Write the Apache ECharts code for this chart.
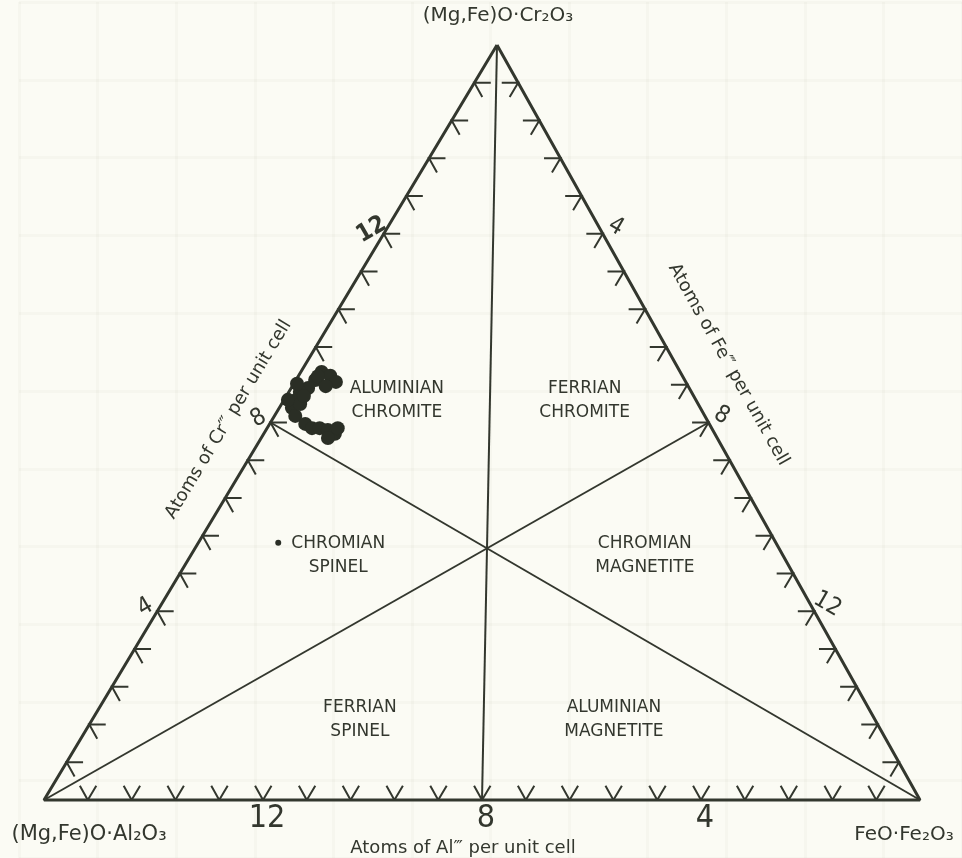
<!DOCTYPE html>
<html>
<head>
<meta charset="utf-8">
<script src="https://cdn.jsdelivr.net/npm/echarts@6/dist/echarts.min.js"></script>
<style>
  html, body { margin: 0; padding: 0; background: #fbfbf4; }
  #chart { width: 962px; height: 858px; }
</style>
</head>
<body>
<div id="chart"></div>
<script>
// ---------------- DATA (atoms per unit cell, each composition sums to 16) ----------------
const vertexNames = ['(Mg,Fe)O·Cr₂O₃', '(Mg,Fe)O·Al₂O₃', 'FeO·Fe₂O₃'];
const vertexCr = [16, 0, 0];
const vertexFe = [0, 0, 16];

// tick marks every 0.8 atoms along each edge
const atomTicks = [0.8, 1.6, 2.4, 3.2, 4.0, 4.8, 5.6, 6.4, 7.2, 8.0, 8.8, 9.6, 10.4, 11.2, 12.0, 12.8, 13.6, 14.4, 15.2];
const tickLabelAtoms = [4, 8, 12];
const tickLabels = ['4', '8', '12'];

const axisTitles = ['Atoms of Al‴ per unit cell', 'Atoms of Cr‴ per unit cell', 'Atoms of Fe‴ per unit cell'];

// field boundaries: each vertex joined to the midpoint of the opposite edge
const dividerFromCr = [16, 0, 0];
const dividerFromFe = [0, 0, 16];
const dividerToCr = [0, 8, 8];
const dividerToFe = [8, 8, 0];

const regionNames = ['ALUMINIAN\nCHROMITE', 'FERRIAN\nCHROMITE', 'CHROMIAN\nSPINEL', 'CHROMIAN\nMAGNETITE', 'FERRIAN\nSPINEL', 'ALUMINIAN\nMAGNETITE'];
const regionCr = [8.46, 8.46, 5.17, 5.17, 1.70, 1.70];
const regionFe = [2.07, 5.50, 2.70, 8.30, 4.89, 9.53];

// analysed chromites (cluster near the Cr–Al edge)
const clusterCr = [9.07, 8.99, 8.86, 8.90, 8.73, 8.65, 8.48, 8.31, 8.14, 8.39, 8.56, 7.97, 7.88, 7.88, 7.84, 7.76, 7.67, 7.88, 8.98, 8.77, 8.48, 8.82];
const clusterFe = [0.38, 0.58, 0.75, 0.35, 0.31, 0.20, 0.22, 0.23, 0.38, 0.34, 0.32, 0.65, 0.82, 0.96, 1.13, 1.30, 1.22, 1.29, 0.36, 0.61, 0.07, 0.06];
// single chromian spinel sample
const spinelCr = [5.45];
const spinelFe = [1.46];

// ---------------- LAYOUT / STYLE ----------------
const TOTAL = 16;
const TOP_X = 453 / 876;   // horizontal position of the Cr apex across the base
const TICK = 0.3;          // tick arm length, atoms
const INK = '#33372e';
const FONT = "'DejaVu Sans', sans-serif";
const NARROW = "'Liberation Sans Narrow', 'DejaVu Sans Condensed', sans-serif";

function proj(cr, fe) {
  return [fe / TOTAL + (cr / TOTAL) * TOP_X, cr / TOTAL];
}

// convert a wanted on-screen offset into the label's rotated local frame
function localOffset(dx, dy, deg) {
  const t = (deg || 0) * Math.PI / 180;
  const c = Math.cos(t), s = Math.sin(t);
  return [dx * c - dy * s, dx * s + dy * c];
}

// triangle outline
const outline = [0, 1, 2, 0].map(i => proj(vertexCr[i], vertexFe[i]));

// divider lines
const dividers = dividerFromCr.map((c, i) => ({
  coords: [proj(c, dividerFromFe[i]), proj(dividerToCr[i], dividerToFe[i])]
}));

// ticks: two arms parallel to the other two edges, pointing into the triangle
const ticks = [];
atomTicks.forEach(a => {
  const fb = TOTAL - a;
  ticks.push({ coords: [proj(TICK, fb - TICK), proj(0, fb), proj(TICK, fb)] });       // bottom
  ticks.push({ coords: [proj(a, TICK), proj(a, 0), proj(a - TICK, TICK)] });          // left
  const cr = TOTAL - a;
  ticks.push({ coords: [proj(cr, a - TICK), proj(cr, a), proj(cr - TICK, a)] });      // right
});

// text items
const texts = [];
function txt(name, pt, dx, dy, label) {
  const rot = label.rotate || 0;
  texts.push({ name: name, value: pt, label: Object.assign({
    show: true, position: 'inside', align: 'center', verticalAlign: 'middle',
    color: INK, opacity: 1, fontFamily: FONT, formatter: '{b}',
    offset: localOffset(dx, dy, rot)
  }, label) });
}
// vertex names
txt(vertexNames[0], proj(vertexCr[0], vertexFe[0]), 1, -29, { fontSize: 20 });
txt(vertexNames[1], proj(vertexCr[1], vertexFe[1]), 45, 35, { fontSize: 21 });
txt(vertexNames[2], proj(vertexCr[2], vertexFe[2]), -16, 35, { fontSize: 20 });
// tick labels
tickLabelAtoms.forEach((a, i) => {
  txt(tickLabels[i], proj(0, TOTAL - a), 4, 19, { fontSize: 32, fontFamily: NARROW });
  txt(tickLabels[i], proj(a, 0), -12, -4, { fontSize: 24, fontFamily: NARROW, rotate: 30,
    fontWeight: a === 12 ? 'bold' : 'normal' });
  txt(tickLabels[i], proj(TOTAL - a, a), 13, -7, { fontSize: 24, fontFamily: NARROW, rotate: -30 });
});
// axis titles
txt(axisTitles[0], proj(0, 8), -19, 48, { fontSize: 18 });
txt(axisTitles[1], proj(8, 0), -42, -3, { fontSize: 18, rotate: 59 });
txt(axisTitles[2], proj(8, 8), 20, -58, { fontSize: 18, rotate: -60.7 });
// field names
regionNames.forEach((n, i) => {
  txt(n, proj(regionCr[i], regionFe[i]), 0, 0, { fontSize: 17, lineHeight: 24 });
});

const clusterData = clusterCr.map((c, i) => proj(c, clusterFe[i]));
const spinelData = spinelCr.map((c, i) => proj(c, spinelFe[i]));

const chart = echarts.init(document.getElementById('chart'), null, { renderer: 'canvas' });
chart.setOption({
  backgroundColor: '#fbfbf4',
  animation: false,
  grid: [
    { left: 44, top: 45, width: 876, height: 755 },
    { left: 19, top: 2, width: 943, height: 856 }
  ],
  xAxis: [
    { gridIndex: 0, type: 'value', min: 0, max: 1, show: false },
    { gridIndex: 1, type: 'value', min: 0, max: 936, interval: 78,
      axisLine: { show: false }, axisTick: { show: false }, axisLabel: { show: false },
      splitLine: { show: true, lineStyle: { color: 'rgba(120,120,90,0.04)', width: 3 } } }
  ],
  yAxis: [
    { gridIndex: 0, type: 'value', min: 0, max: 1, show: false },
    { gridIndex: 1, type: 'value', min: 0, max: 858, interval: 78, inverse: true,
      axisLine: { show: false }, axisTick: { show: false }, axisLabel: { show: false },
      splitLine: { show: true, lineStyle: { color: 'rgba(120,120,90,0.04)', width: 3 } } }
  ],
  series: [
    { type: 'line', name: 'outline', data: outline, symbol: 'none', clip: false,
      lineStyle: { color: INK, width: 3 }, z: 3 },
    { type: 'lines', name: 'fields', coordinateSystem: 'cartesian2d', data: dividers,
      lineStyle: { color: INK, width: 2, opacity: 1, curveness: 0 }, z: 2 },
    { type: 'lines', name: 'ticks', coordinateSystem: 'cartesian2d', polyline: true, data: ticks,
      lineStyle: { color: INK, width: 2, opacity: 1 }, z: 3 },
    { type: 'scatter', name: 'chromite', data: clusterData, symbolSize: 14, clip: false,
      itemStyle: { color: '#2a2e25', opacity: 1 }, z: 4 },
    { type: 'scatter', name: 'chromian spinel', data: spinelData, symbolSize: 6, clip: false,
      itemStyle: { color: '#2a2e25', opacity: 1 }, z: 4 },
    { type: 'scatter', name: 'text', data: texts, symbolSize: 0, clip: false, silent: true,
      itemStyle: { opacity: 1 }, z: 5 }
  ]
});
</script>
</body>
</html>
